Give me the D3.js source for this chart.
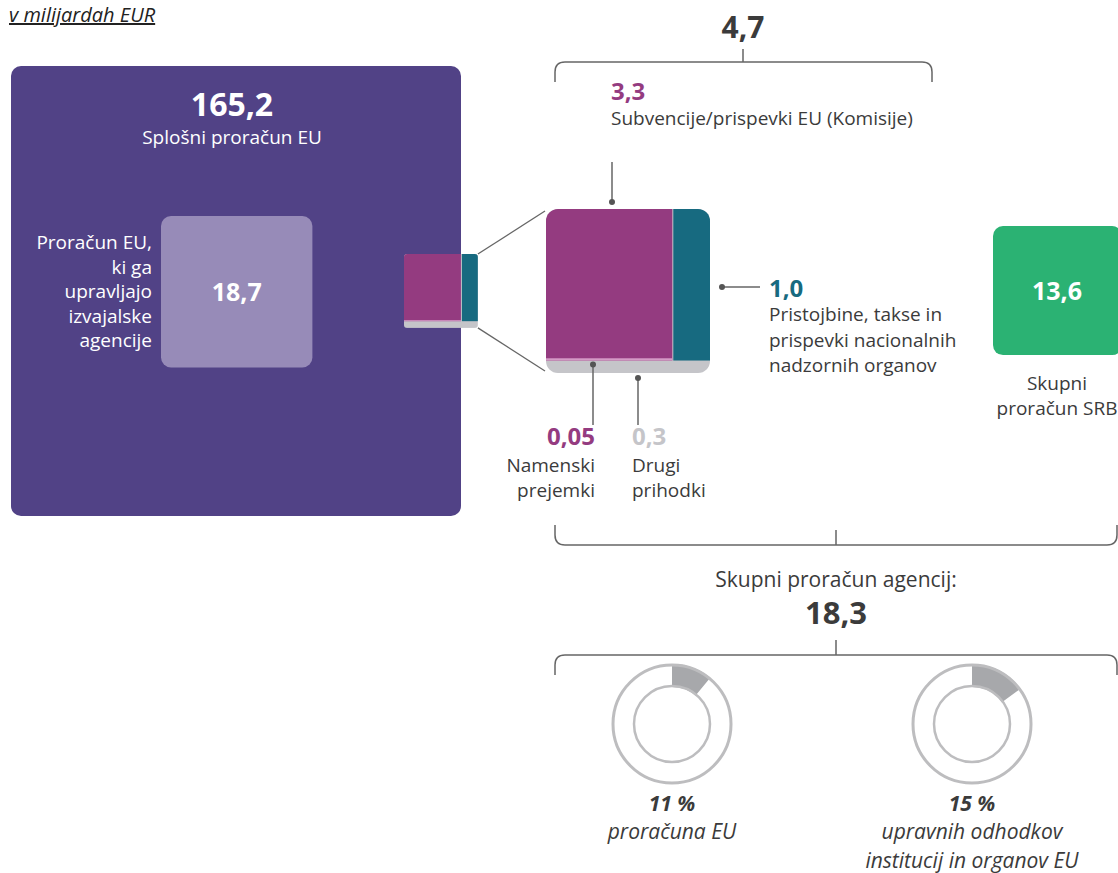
<!DOCTYPE html>
<html>
<head>
<meta charset="utf-8">
<script src="https://cdn.jsdelivr.net/npm/d3@7"></script>
<style>
  body { margin: 0; background: #fff; }
  svg text { font-family: "Open Sans", "Noto Sans", sans-serif; }
</style>
</head>
<body>
<script>
// values in billion EUR
var generalBudget = 165.2;
var agencyBudgetEU = 18.7;
var contribLabels = ["Subvencije/prispevki EU (Komisije)", "Pristojbine, takse in prispevki nacionalnih nadzornih organov", "Namenski prejemki", "Drugi prihodki"];
var contribValues = [3.3, 1.0, 0.05, 0.3];
var contribTotal = 4.7;
var srbBudget = 13.6;
var agencyTotal = 18.3;
var shareValues = [11, 15];
var shareLabels = [["proračuna EU"], ["upravnih odhodkov", "institucij in organov EU"]];

var W = 1118, H = 873;
var dark = "#3b3b3b", purple = "#943b80", teal = "#176a80", grey = "#c5c5c9",
    boxPurple = "#514286", boxLight = "#978bb8", green = "#2bb273", lineCol = "#666";
var body = "19px", num = "24px";

var svg = d3.select("body").append("svg").attr("width", W).attr("height", H);

// side length of a square proportional to area
var side = d3.scaleSqrt().domain([0, generalBudget]).range([0, 450]);
function fmt(v) { return String(v).replace(".", ","); }
function f1(v) { return d3.format(".1f")(v).replace(".", ","); }

// unit label
svg.append("text").attr("x", 9).attr("y", 22)
  .style("font-size", "20px").style("font-style", "italic").style("text-decoration", "underline")
  .attr("fill", "#222").text("v milijardah EUR");

// general EU budget
var bx = 11, by = 66, bs = side(generalBudget);
svg.append("rect").attr("x", bx).attr("y", by).attr("width", bs).attr("height", bs)
  .attr("rx", 10).attr("fill", boxPurple);
svg.append("text").attr("x", bx + bs / 2 - 4).attr("y", 116).attr("text-anchor", "middle")
  .attr("fill", "#fff").style("font-size", "32px").style("font-weight", "bold")
  .text(f1(generalBudget));
svg.append("text").attr("x", bx + bs / 2 - 4).attr("y", 144).attr("text-anchor", "middle")
  .attr("fill", "#fff").style("font-size", body).text("Splošni proračun EU");

// budget managed by executive agencies
var ls = side(agencyBudgetEU), lx = 161, ly = 216;
svg.append("rect").attr("x", lx).attr("y", ly).attr("width", ls).attr("height", ls)
  .attr("rx", 10).attr("fill", boxLight);
svg.append("text").attr("x", lx + ls / 2).attr("y", ly + ls / 2 + 9).attr("text-anchor", "middle")
  .attr("fill", "#fff").style("font-size", "25px").style("font-weight", "bold")
  .text(f1(agencyBudgetEU));
svg.append("text").attr("fill", "#fff").style("font-size", body).attr("text-anchor", "end")
  .selectAll("tspan").data(["Proračun EU,", "ki ga", "upravljajo", "izvajalske", "agencije"])
  .enter().append("tspan").attr("x", 152).attr("y", function(d, i) { return 249 + i * 24.5; })
  .text(function(d) { return d; });

// contributions box: drawn small and zoomed
function contribBox(x0, y0, s, rad) {
  var g = svg.append("g");
  var hx = d3.scaleLinear().domain([0, contribTotal]).range([0, s]);
  var greyH = hx(contribValues[3]) + 2;
  var topH = s - greyH;
  var wx = d3.scaleLinear().domain([0, contribValues[0] + contribValues[2] + contribValues[1]]).range([0, s]);
  var pw = wx(contribValues[0] + contribValues[2]);
  var clipId = "c" + Math.round(x0);
  g.append("clipPath").attr("id", clipId).append("rect")
    .attr("x", x0).attr("y", y0).attr("width", s).attr("height", s).attr("rx", rad);
  var gg = g.append("g").attr("clip-path", "url(#" + clipId + ")");
  gg.append("rect").attr("x", x0).attr("y", y0).attr("width", s).attr("height", s).attr("fill", grey);
  gg.append("rect").attr("x", x0).attr("y", y0).attr("width", pw).attr("height", topH).attr("fill", purple);
  var pinkH = d3.scaleLinear().domain([0, contribValues[0] + contribValues[2]]).range([0, topH])(contribValues[2]);
  gg.append("rect").attr("x", x0).attr("y", y0 + topH - pinkH).attr("width", pw).attr("height", pinkH)
    .attr("fill", "#d59ac6");
  gg.append("rect").attr("x", x0 + pw + 1).attr("y", y0).attr("width", s - pw - 1).attr("height", topH).attr("fill", teal);
  return {pw: pw, topH: topH};
}
var sx = 404, sy = 254, ss = side(contribTotal) - 2;
contribBox(sx, sy, ss, 3);
var zx = 546, zy = 209, zs = 164;
var z = contribBox(zx, zy, zs, 12);

// zoom connector lines
svg.append("line").attr("x1", sx + ss).attr("y1", sy).attr("x2", zx - 1).attr("y2", zy + 2)
  .attr("stroke", lineCol).attr("stroke-width", 1.3);
svg.append("line").attr("x1", sx + ss).attr("y1", sy + ss).attr("x2", zx - 1).attr("y2", zy + zs - 2)
  .attr("stroke", lineCol).attr("stroke-width", 1.3);

function callout(x1, y1, x2, y2) {
  svg.append("line").attr("x1", x1).attr("y1", y1).attr("x2", x2).attr("y2", y2)
    .attr("stroke", lineCol).attr("stroke-width", 1.5);
  svg.append("circle").attr("cx", x1).attr("cy", y1).attr("r", 3).attr("fill", "#555");
}

// 3,3 subsidies
callout(612, 202, 612, 162);
svg.append("text").attr("x", 611).attr("y", 100).attr("fill", purple)
  .style("font-size", num).style("font-weight", "bold").text(fmt(contribValues[0]));
svg.append("text").attr("x", 611).attr("y", 125).attr("fill", dark)
  .style("font-size", body).text(contribLabels[0]);

// 1,0 fees
callout(722, 287, 760, 287);
svg.append("text").attr("x", 769).attr("y", 297).attr("fill", teal)
  .style("font-size", num).style("font-weight", "bold").text(f1(contribValues[1]));
svg.append("text").attr("fill", dark).style("font-size", body)
  .selectAll("tspan").data(["Pristojbine, takse in", "prispevki nacionalnih", "nadzornih organov"])
  .enter().append("tspan").attr("x", 769).attr("y", function(d, i) { return 321 + i * 25.5; })
  .text(function(d) { return d; });

// 0,05 earmarked
callout(zx + 47, zy + z.topH + 4, zx + 47, 425);
svg.append("text").attr("x", 595).attr("y", 445).attr("text-anchor", "end").attr("fill", purple)
  .style("font-size", num).style("font-weight", "bold").text(fmt(contribValues[2]));
svg.append("text").attr("fill", dark).style("font-size", body).attr("text-anchor", "end")
  .selectAll("tspan").data(["Namenski", "prejemki"])
  .enter().append("tspan").attr("x", 595).attr("y", function(d, i) { return 472 + i * 25; })
  .text(function(d) { return d; });

// 0,3 other
callout(638, 378, 638, 425);
svg.append("text").attr("x", 632).attr("y", 445).attr("fill", grey)
  .style("font-size", num).style("font-weight", "bold").text(fmt(contribValues[3]));
svg.append("text").attr("fill", dark).style("font-size", body)
  .selectAll("tspan").data(["Drugi", "prihodki"])
  .enter().append("tspan").attr("x", 632).attr("y", function(d, i) { return 472 + i * 25; })
  .text(function(d) { return d; });

// SRB box
var gs = side(srbBudget), gx = 993, gy = 226;
svg.append("rect").attr("x", gx).attr("y", gy).attr("width", gs).attr("height", gs)
  .attr("rx", 10).attr("fill", green);
svg.append("text").attr("x", 1057).attr("y", gy + gs / 2 + 9).attr("text-anchor", "middle")
  .attr("fill", "#fff").style("font-size", "25px").style("font-weight", "bold").text(fmt(srbBudget));
svg.append("text").attr("fill", dark).style("font-size", body).attr("text-anchor", "middle")
  .selectAll("tspan").data(["Skupni", "proračun SRB"])
  .enter().append("tspan").attr("x", 1057).attr("y", function(d, i) { return 390 + i * 25; })
  .text(function(d) { return d; });

// braces
function brace(x1, x2, y, dir, cx, tickLen) {
  var r = 10, e = 20 * dir;
  var p = d3.path();
  p.moveTo(x1, y + e);
  p.lineTo(x1, y + r * dir);
  p.quadraticCurveTo(x1, y, x1 + r, y);
  p.lineTo(x2 - r, y);
  p.quadraticCurveTo(x2, y, x2, y + r * dir);
  p.lineTo(x2, y + e);
  p.moveTo(cx, y);
  p.lineTo(cx, y - tickLen * dir);
  svg.append("path").attr("d", p.toString()).attr("fill", "none")
    .attr("stroke", lineCol).attr("stroke-width", 1.5);
}
brace(555, 932, 62, 1, 743, 13);
svg.append("text").attr("x", 743).attr("y", 38).attr("text-anchor", "middle").attr("fill", dark)
  .style("font-size", "30px").style("font-weight", "bold").text(fmt(contribTotal));

brace(555, 1117, 545, -1, 836, -15);
svg.append("text").attr("x", 836).attr("y", 587).attr("text-anchor", "middle").attr("fill", dark)
  .style("font-size", "21px").text("Skupni proračun agencij:");
svg.append("text").attr("x", 836).attr("y", 624).attr("text-anchor", "middle").attr("fill", dark)
  .style("font-size", "31px").style("font-weight", "bold").text(fmt(agencyTotal));

brace(555, 1117, 655, 1, 836, 15);

// donuts
var pct = d3.scaleLinear().domain([0, 100]).range([0, 2 * Math.PI]);
var donutX = [672, 972], donutY = 724, rOut = 60, rIn = 37;
shareValues.forEach(function(v, i) {
  var g = svg.append("g").attr("transform", "translate(" + donutX[i] + "," + donutY + ")");
  g.append("path").attr("d", d3.arc()({innerRadius: rIn, outerRadius: rOut, startAngle: 0, endAngle: pct(v)}))
    .attr("fill", "#a7a8ab");
  g.append("circle").attr("r", rOut - 1).attr("fill", "none").attr("stroke", "#bdbdbf").attr("stroke-width", 3);
  g.append("circle").attr("r", rIn + 1).attr("fill", "none").attr("stroke", "#bdbdbf").attr("stroke-width", 2.5);
  svg.append("text").attr("x", donutX[i]).attr("y", 811).attr("text-anchor", "middle").attr("fill", dark)
    .style("font-size", "21px").style("font-weight", "bold").style("font-style", "italic").text(v + " %");
  svg.append("text").attr("fill", dark).style("font-size", "21px").style("font-style", "italic")
    .attr("text-anchor", "middle")
    .selectAll("tspan").data(shareLabels[i]).enter().append("tspan")
    .attr("x", donutX[i]).attr("y", function(d, j) { return 839 + j * 29; })
    .text(function(d) { return d; });
});
</script>
</body>
</html>
